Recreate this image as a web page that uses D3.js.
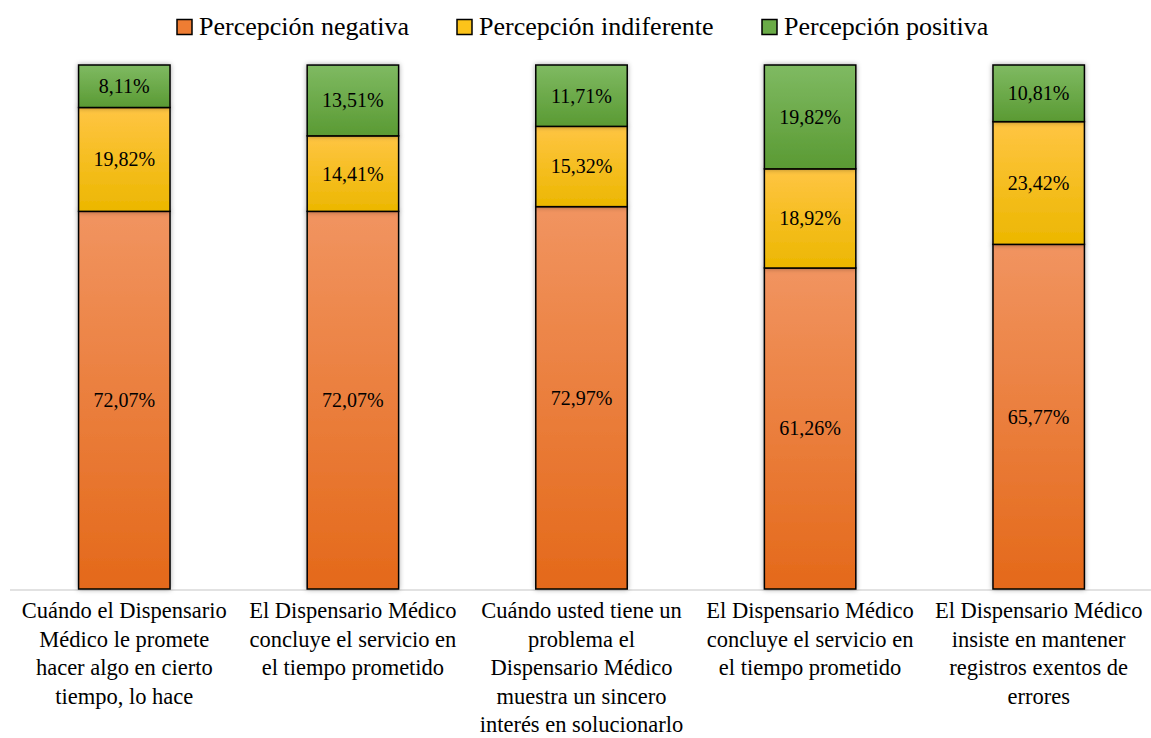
<!DOCTYPE html>
<html>
<head>
<meta charset="utf-8">
<script src="https://cdn.jsdelivr.net/npm/d3@7"></script>
<style>
  body { margin: 0; background: #fff; }
</style>
</head>
<body>
<svg id="chart" width="1151" height="738"></svg>
<script>
// categories (x axis labels, already split in lines)
var categories = [
  ["Cuándo el Dispensario", "Médico le promete", "hacer algo en cierto", "tiempo, lo hace"],
  ["El Dispensario Médico", "concluye el servicio en", "el tiempo prometido"],
  ["Cuándo usted tiene un", "problema el", "Dispensario Médico", "muestra un sincero", "interés en solucionarlo"],
  ["El Dispensario Médico", "concluye el servicio en", "el tiempo prometido"],
  ["El Dispensario Médico", "insiste en mantener", "registros exentos de", "errores"]
]
var seriesNames = ["Percepción negativa", "Percepción indiferente", "Percepción positiva"]
var negativa = [72.07, 72.07, 72.97, 61.26, 65.77]
var indiferente = [19.82, 14.41, 15.32, 18.92, 23.42]
var positiva = [8.11, 13.51, 11.71, 19.82, 10.81]

var colors = [
  { top: "#f19460", bottom: "#e4691a", key: "#ef7d33" },
  { top: "#ffc543", bottom: "#ecb700", key: "#fcc31a" },
  { top: "#7fba62", bottom: "#5a9a33", key: "#6aab47" }
]

var FONT = "'Liberation Serif', 'Times New Roman', Tinos, 'DejaVu Serif', serif"

var svg = d3.select("#chart").attr("font-family", FONT)
var width = 1151, height = 738
var margin = { top: 65, bottom: 149, left: 10, right: -2 }

var rows = categories.map(function (c, i) {
  return { idx: i, neg: negativa[i], ind: indiferente[i], pos: positiva[i] }
})
var keys = ["neg", "ind", "pos"]
var stacked = d3.stack().keys(keys)(rows)

var x = d3.scaleBand()
  .domain(d3.range(categories.length))
  .range([margin.left, width - margin.right])
  .paddingInner(0.6)
  .paddingOuter(0.3)

var y = d3.scaleLinear()
  .domain([0, 100])
  .range([height - margin.bottom, margin.top])

// gradients + shadow
var defs = svg.append("defs")
colors.forEach(function (c, i) {
  var g = defs.append("linearGradient")
    .attr("id", "grad" + i)
    .attr("x1", 0).attr("y1", 0).attr("x2", 0).attr("y2", 1)
  g.append("stop").attr("offset", "0%").attr("stop-color", c.top)
  g.append("stop").attr("offset", "100%").attr("stop-color", c.bottom)
})
var f = defs.append("filter").attr("id", "shadow")
  .attr("x", "-20%").attr("y", "-5%").attr("width", "140%").attr("height", "110%")
f.append("feDropShadow").attr("dx", 0).attr("dy", 0).attr("stdDeviation", 2.5)
  .attr("flood-color", "#000").attr("flood-opacity", 0.35)

// axis line
svg.append("line")
  .attr("x1", 10).attr("x2", width)
  .attr("y1", y(0) + 1).attr("y2", y(0) + 1)
  .attr("stroke", "#d9d9d9").attr("stroke-width", 1.5)

var layers = svg.append("g").selectAll("g")
  .data(stacked)
  .enter().append("g")
    .attr("filter", "url(#shadow)")

layers.selectAll("rect")
  .data(function (d, i) { return d.map(function (p) { return { p: p, s: i } }) })
  .enter().append("rect")
    .attr("x", function (d) { return x(d.p.data.idx) })
    .attr("width", x.bandwidth())
    .attr("y", function (d) { return y(d.p[1]) })
    .attr("height", function (d) { return y(d.p[0]) - y(d.p[1]) })
    .attr("fill", function (d) { return "url(#grad" + d.s + ")" })
    .attr("stroke", "#000")
    .attr("stroke-width", 1.5)

// data labels
var labels = svg.append("g")
stacked.forEach(function (layer) {
  layer.forEach(function (p) {
    labels.append("text")
      .attr("x", x(p.data.idx) + x.bandwidth() / 2)
      .attr("y", (y(p[0]) + y(p[1])) / 2)
      .attr("dy", "0.35em")
      .attr("text-anchor", "middle")
      .attr("font-size", 20)
      .attr("fill", "#000")
      .text(d3.format(".2f")(p[1] - p[0]).replace(".", ",") + "%")
  })
})

// x axis labels
var xl = svg.append("g")
categories.forEach(function (lines, i) {
  var t = xl.append("text")
    .attr("text-anchor", "middle")
    .attr("font-size", 22.5)
    .attr("fill", "#000")
  lines.forEach(function (line, j) {
    t.append("tspan")
      .attr("x", x(i) + x.bandwidth() / 2)
      .attr("y", 618 + j * 28.6)
      .text(line)
  })
})

// legend
var legendX = [177, 457, 762]
var legend = svg.append("g")
seriesNames.forEach(function (name, i) {
  legend.append("rect")
    .attr("x", legendX[i]).attr("y", 19.5)
    .attr("width", 15).attr("height", 15)
    .attr("fill", colors[i].key)
    .attr("stroke", "#000").attr("stroke-width", 1.5)
  legend.append("text")
    .attr("x", legendX[i] + 22).attr("y", 35)
    .attr("font-size", 26)
    .attr("fill", "#000")
    .text(name)
})
</script>
</body>
</html>
